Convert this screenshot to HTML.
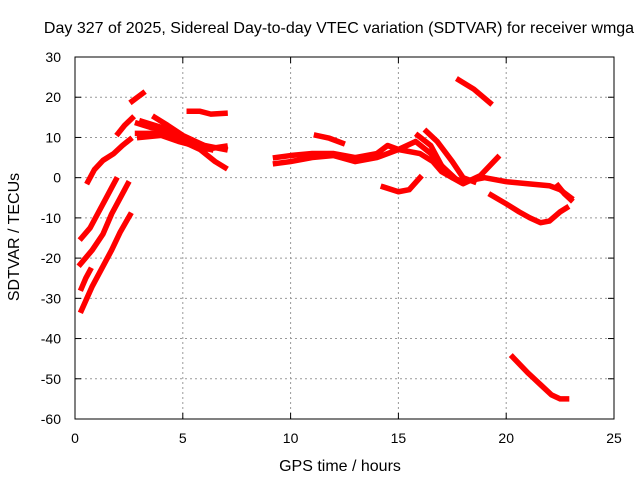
<!DOCTYPE html>
<html><head><meta charset="utf-8"><style>
body{margin:0;background:#fff}
svg{display:block;font-family:"Liberation Sans",sans-serif;font-size:14px}
</style></head><body>
<svg id="chart" width="640" height="480" xmlns="http://www.w3.org/2000/svg">
<rect width="640" height="480" fill="#fff"/>
<text x="339" y="33" text-anchor="middle" fill="#000" style="font-size:16px">Day 327 of 2025, Sidereal Day-to-day VTEC variation (SDTVAR) for receiver wmga</text>
<text x="340" y="471" text-anchor="middle" style="font-size:16px">GPS time / hours</text>
<text transform="translate(19,237) rotate(-90)" text-anchor="middle" style="font-size:16px">SDTVAR / TECUs</text>
<g id="grid"></g><g id="ticks"></g><g id="series"></g>
<rect x="75" y="57" width="539" height="362" fill="none" stroke="#000" stroke-width="1"/>
</svg>
<script>
const xTicks=[0,5,10,15,20,25];
const yTicks=[30,20,10,0,-10,-20,-30,-40,-50,-60];
const trackA=[[0.3,-15],[0.7,-12.5],[1.0,-9.5],[1.4,-5.5],[1.7,-2.5],[1.9,-0.5]];
const trackB=[[0.25,-21.5],[0.8,-18],[1.3,-14],[1.7,-9],[2.1,-5],[2.45,-1.5]];
const trackC=[[0.3,-27.5],[0.5,-25],[0.7,-23]];
const trackD=[[0.3,-33],[0.8,-27],[1.3,-22],[1.7,-18],[2.1,-13.5],[2.55,-9.3]];
const trackE=[[0.6,-1],[0.9,2],[1.3,4.3],[1.8,6],[2.2,8],[2.55,9.5]];
const trackF=[[2.0,11],[2.3,13],[2.65,14.8]];
const trackG=[[2.65,19],[2.9,20],[3.15,21]];
const trackH=[[5.3,16.5],[5.8,16.5],[6.3,15.8],[6.96,16]];
const trackI=[[2.9,13.5],[3.5,12.5],[4,12],[5,9],[6,7],[6.96,7.8]];
const trackJ=[[2.9,11],[4,11],[5,9],[5.8,7],[6.5,4],[6.96,2.5]];
const trackK=[[3.7,15],[4.3,13],[5,10.5],[6,8],[6.96,7]];
const trackL=[[3.1,14],[4,12.5],[5,10],[6,8]];
const trackM=[[3.0,10],[4,10.5],[4.8,9],[5.5,8],[6.3,7]];
const trackN=[[9.3,5],[10,5.5],[11,6],[12,6],[13,5],[14,6],[14.5,8],[15,7],[16,6],[16.6,4],[17,1.5],[17.5,0],[18,-1],[19,0],[20,-1],[21,-1.5],[22,-2],[22.5,-3],[23,-5]];
const trackO=[[9.3,3.5],[10,4],[11,5],[12,5.5],[13,4],[14,5],[15,7],[15.8,9],[16.5,6],[17,3],[17.5,0],[18,-1.5],[18.8,0.5],[19.6,5]];
const trackP=[[11.2,10.5],[11.8,9.8],[12.4,8.6]];
const trackQ=[[16.3,11.5],[16.8,9],[17.5,4],[18,0],[18.5,-1]];
const trackR=[[15.9,10.5],[16.5,8],[17,3],[17.6,0]];
const trackS=[[14.3,-2.3],[15,-3.5],[15.5,-3],[16,0]];
const trackT=[[17.8,24.3],[18.5,22],[19.25,18.6]];
const trackU=[[19.3,-4.3],[20,-6.5],[20.6,-8.5],[21.1,-10],[21.6,-11.2],[22,-10.8],[22.5,-8.5],[22.8,-7.5]];
const trackV=[[20.3,-44.6],[21,-48.5],[21.6,-51.5],[22.1,-54],[22.5,-55],[22.8,-55]];
const trackW=[[22.4,-2],[22.7,-4],[23,-5.5]];
const tracks=[trackA,trackB,trackC,trackD,trackE,trackF,trackG,trackH,trackI,trackJ,trackK,trackL,trackM,trackN,trackO,trackP,trackQ,trackR,trackS,trackT,trackU,trackV,trackW];
const X0=75,X1=614,Y0=419,Y1=57;
const xs=h=>X0+(h-0)/25*(X1-X0);
const ys=v=>Y0-(v+60)/90*(Y0-Y1);
const NS="http://www.w3.org/2000/svg";
const g=document.getElementById('grid'),t=document.getElementById('ticks'),s=document.getElementById('series');
function mk(tag,attrs,parent){const e=document.createElementNS(NS,tag);for(const k in attrs)e.setAttribute(k,attrs[k]);parent.appendChild(e);return e;}
xTicks.forEach(v=>{const x=xs(v);
 if(v>0&&v<25){const l=mk('line',{x1:x,x2:x,y1:Y1,y2:Y0,stroke:'#999','stroke-dasharray':'2,3'},g);
 
 }
 mk('line',{x1:x,x2:x,y1:Y0,y2:Y0-6,stroke:'#000'},t);mk('line',{x1:x,x2:x,y1:Y1,y2:Y1+6,stroke:'#000'},t);
 const tx=mk('text',{x:x,y:Y0+24,'text-anchor':'middle'},t);tx.textContent=v;
 
 });
yTicks.forEach(v=>{const y=ys(v);
 if(v>-60&&v<30){const l=mk('line',{x1:X0,x2:X1,y1:y,y2:y,stroke:'#999','stroke-dasharray':'2,3'},g);
 
 }
 mk('line',{x1:X0,x2:X0+6,y1:y,y2:y,stroke:'#000'},t);mk('line',{x1:X1,x2:X1-6,y1:y,y2:y,stroke:'#000'},t);
 const tx=mk('text',{x:X0-14,y:y+5,'text-anchor':'end'},t);tx.textContent=v;
 
 });
tracks.forEach((tr,i)=>{
 const p=mk('polyline',{points:tr.map(d=>xs(d[0])+','+ys(d[1])).join(' '),fill:'none',stroke:'#f00','stroke-width':5.5,'stroke-linejoin':'round','stroke-linecap':'square'},s);
 
 
});
</script>
</body></html>
